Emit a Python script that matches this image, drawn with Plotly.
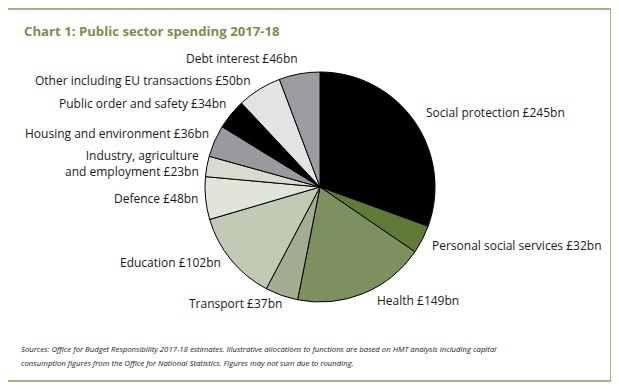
import plotly.graph_objects as go

categories = ["Social protection", "Personal social services", "Health", "Transport",
              "Education", "Defence", "Industry, agriculture and employment",
              "Housing and environment", "Public order and safety",
              "Other including EU transactions", "Debt interest"]
values = [245, 32, 149, 37, 102, 48, 23, 36, 34, 50, 46]
colors = ["#000000", "#5f7a35", "#7d9160", "#a3ad92", "#c2c9b5", "#e0e4da",
          "#d8dccf", "#999a9e", "#000000", "#e2e3e5", "#9c9da1"]
label_texts = ["Social protection £245bn", "Personal social services £32bn",
               "Health £149bn", "Transport £37bn", "Education £102bn",
               "Defence £48bn", "Industry, agriculture<br>and employment £23bn",
               "Housing and environment £36bn", "Public order and safety £34bn",
               "Other including EU transactions £50bn", "Debt interest £46bn"]
# label anchor positions (pixels in the page) and alignment
label_pos = [(424, 112, "left"), (430, 245, "left"), (375, 300, "left"),
             (187, 303, "left"), (223, 262, "right"), (200, 198, "right"),
             (201, 163, "right"), (211, 133, "right"), (228, 103, "right"),
             (253, 80, "right"), (300, 58, "right")]
footer_lines = [
    "Sources: Office for Budget Responsibility 2017-18 estimates. Illustrative allocations to functions are based on HMT analysis including capital",
    "consumption figures from the Office for National Statistics. Figures may not sum due to rounding.",
]

# page body has an 8px default margin; compensate
OX, OY = 8, 8
W, H = 619 - OX, 389 - OY
FONT = "Open Sans, Noto Sans, sans-serif"


def px(x):
    return (x - OX) / W


def py(y):
    return 1 - (y - OY) / H


fig = go.Figure(go.Pie(
    labels=categories, values=values, sort=False, direction="clockwise",
    rotation=0, marker=dict(colors=colors, line=dict(color="#000000", width=1)),
    textinfo="none", hoverinfo="label+value", showlegend=False,
    domain=dict(x=[px(205), px(435)], y=[py(302), py(72)]),
))

for txt, (lx, ly, al) in zip(label_texts, label_pos):
    fig.add_annotation(x=px(lx), y=py(ly), xref="paper", yref="paper",
                       text=txt, showarrow=False, align=al,
                       xanchor="left" if al == "left" else "right",
                       yanchor="middle", font=dict(family=FONT, size=12, color="#1a1a1a"))

fig.add_annotation(x=px(22), y=py(31), xref="paper", yref="paper",
                   text="<b>Chart 1: Public sector spending 2017-18</b>", showarrow=False,
                   xanchor="left", yanchor="middle",
                   font=dict(family=FONT, size=13.2, color="#7b8f4a"))

for i, line in enumerate(footer_lines):
    fig.add_annotation(x=px(19), y=py(349 + 14 * i), xref="paper", yref="paper",
                       text="<i>" + line + "</i>", showarrow=False,
                       xanchor="left", yanchor="middle", align="left",
                       font=dict(family=FONT, size=7.75, color="#1a1a1a"))

fig.add_shape(type="rect", xref="paper", yref="paper",
              x0=px(7), x1=px(611), y0=py(381), y1=py(9),
              line=dict(color="#8a9a5b", width=1.5), fillcolor="rgba(0,0,0,0)")

fig.update_layout(width=W, height=H, margin=dict(l=0, r=0, t=0, b=0),
                  paper_bgcolor="white", plot_bgcolor="white")

fig.write_html("out.html")
